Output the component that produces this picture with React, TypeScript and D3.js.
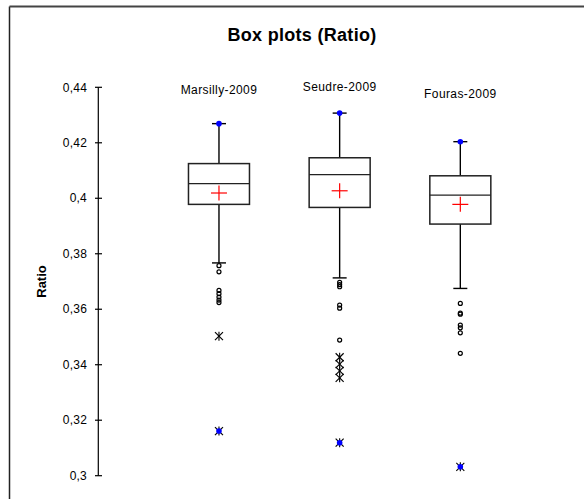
import React from "react";
import * as d3 from "d3";

const categories = ["Marsilly-2009", "Seudre-2009", "Fouras-2009"];
const q1 = [0.3978, 0.3967, 0.3907];
const median = [0.4053, 0.4085, 0.4011];
const q3 = [0.4125, 0.4146, 0.4081];
const mean = [0.4019, 0.4027, 0.3978];
const whiskerLow = [0.3767, 0.3713, 0.3675];
const maxVal = [0.4269, 0.4307, 0.4204];
const minVal = [0.3161, 0.3119, 0.3032];
const mildOutliers = [
  [0.3757, 0.3735, 0.3668, 0.3656, 0.3644, 0.3633, 0.3624],
  [0.3697, 0.3689, 0.3681, 0.3615, 0.3604, 0.3489],
  [0.3621, 0.3586, 0.3582, 0.3543, 0.3533, 0.3515, 0.3441],
];
const extremeOutliers = [[0.3503], [0.3427, 0.3402, 0.3378, 0.3353], []];
const yTicks = [0.3, 0.32, 0.34, 0.36, 0.38, 0.4, 0.42, 0.44];

const W = 584;
const H = 499;
const FONT = "'Liberation Sans', Arial, sans-serif";
const labelBaseline = [94, 91, 98];

export default function App() {
  const y = d3.scaleLinear().domain([0.3, 0.44]).range([475.7, 87.3]);
  const x = d3.scalePoint<string>().domain(categories).range([98.3, 581]).padding(1);
  const boxHalf = 30.5;
  const capHalf = 7;
  const fmt = (v: number) => String(+v.toFixed(2)).replace(".", ",");

  const asterisk = (cx: number, cy: number, key: string) => (
    <g key={key} stroke="#000" strokeWidth={1.1}>
      <line x1={cx - 4} y1={cy - 4} x2={cx + 4} y2={cy + 4} />
      <line x1={cx - 4} y1={cy + 4} x2={cx + 4} y2={cy - 4} />
      <line x1={cx} y1={cy - 4.5} x2={cx} y2={cy + 4.5} />
    </g>
  );

  return (
    <svg
      width={W}
      height={H}
      style={{ position: "absolute", left: 0, top: 0, background: "#fff" }}
      fontFamily={FONT}
    >
      <rect x={0} y={0} width={W} height={H} fill="#fff" />
      {/* frame */}
      <line x1={9.5} y1={6.5} x2={9.5} y2={H} stroke="#222" strokeWidth={1.5} />
      <line x1={9.5} y1={6.5} x2={W} y2={6.5} stroke="#444" strokeWidth={1.8} />

      {/* title */}
      <text x={302} y={41} textAnchor="middle" fontSize={18} fontWeight="bold" letterSpacing={0.3} fill="#000">
        Box plots (Ratio)
      </text>

      {/* y axis */}
      <line x1={98.3} x2={98.3} y1={y(0.44)} y2={y(0.3)} stroke="#000" strokeWidth={1.2} />
      {yTicks.map((t) => (
        <g key={t}>
          <line x1={95} x2={102} y1={y(t)} y2={y(t)} stroke="#000" strokeWidth={1.2} />
          <text x={87} y={y(t)} dy="0.35em" textAnchor="end" fontSize={12} letterSpacing={0.2} fill="#000">
            {fmt(t)}
          </text>
        </g>
      ))}
      <text
        transform={`translate(46,${(y(0.44) + y(0.3)) / 2}) rotate(-90)`}
        textAnchor="middle"
        fontSize={13}
        fontWeight="bold"
        fill="#000"
      >
        Ratio
      </text>

      {categories.map((c, i) => {
        const cx = x(c) as number;
        return (
          <g key={c}>
            <text x={cx} y={labelBaseline[i]} textAnchor="middle" fontSize={12} letterSpacing={0.4} fill="#000">
              {c}
            </text>
            {/* whiskers */}
            <line x1={cx} x2={cx} y1={y(maxVal[i])} y2={y(q3[i])} stroke="#000" strokeWidth={1.4} />
            <line x1={cx} x2={cx} y1={y(q1[i])} y2={y(whiskerLow[i])} stroke="#000" strokeWidth={1.4} />
            <line x1={cx - capHalf} x2={cx + capHalf} y1={y(maxVal[i])} y2={y(maxVal[i])} stroke="#000" strokeWidth={1.4} />
            <line x1={cx - capHalf} x2={cx + capHalf} y1={y(whiskerLow[i])} y2={y(whiskerLow[i])} stroke="#000" strokeWidth={1.4} />
            {/* box */}
            <rect
              x={cx - boxHalf}
              y={y(q3[i])}
              width={boxHalf * 2}
              height={y(q1[i]) - y(q3[i])}
              fill="#fff"
              stroke="#222"
              strokeWidth={1.5}
            />
            <line x1={cx - boxHalf} x2={cx + boxHalf} y1={y(median[i])} y2={y(median[i])} stroke="#222" strokeWidth={1.3} />
            {/* mean */}
            <g stroke="#ff0000" strokeWidth={1.2}>
              <line x1={cx - 8} x2={cx + 8} y1={y(mean[i])} y2={y(mean[i])} />
              <line x1={cx} x2={cx} y1={y(mean[i]) - 7.5} y2={y(mean[i]) + 7.5} />
            </g>
            {/* mild outliers */}
            {mildOutliers[i].map((v, j) => (
              <circle key={"o" + j} cx={cx} cy={y(v)} r={2} fill="none" stroke="#000" strokeWidth={1.2} />
            ))}
            {/* extreme outliers */}
            {extremeOutliers[i].map((v, j) => asterisk(cx, y(v), "e" + j))}
            {/* min */}
            {asterisk(cx, y(minVal[i]), "min")}
            <circle cx={cx} cy={y(minVal[i])} r={2.8} fill="#0000ff" />
            {/* max */}
            <circle cx={cx} cy={y(maxVal[i])} r={2.8} fill="#0000ff" />
          </g>
        );
      })}
    </svg>
  );
}
